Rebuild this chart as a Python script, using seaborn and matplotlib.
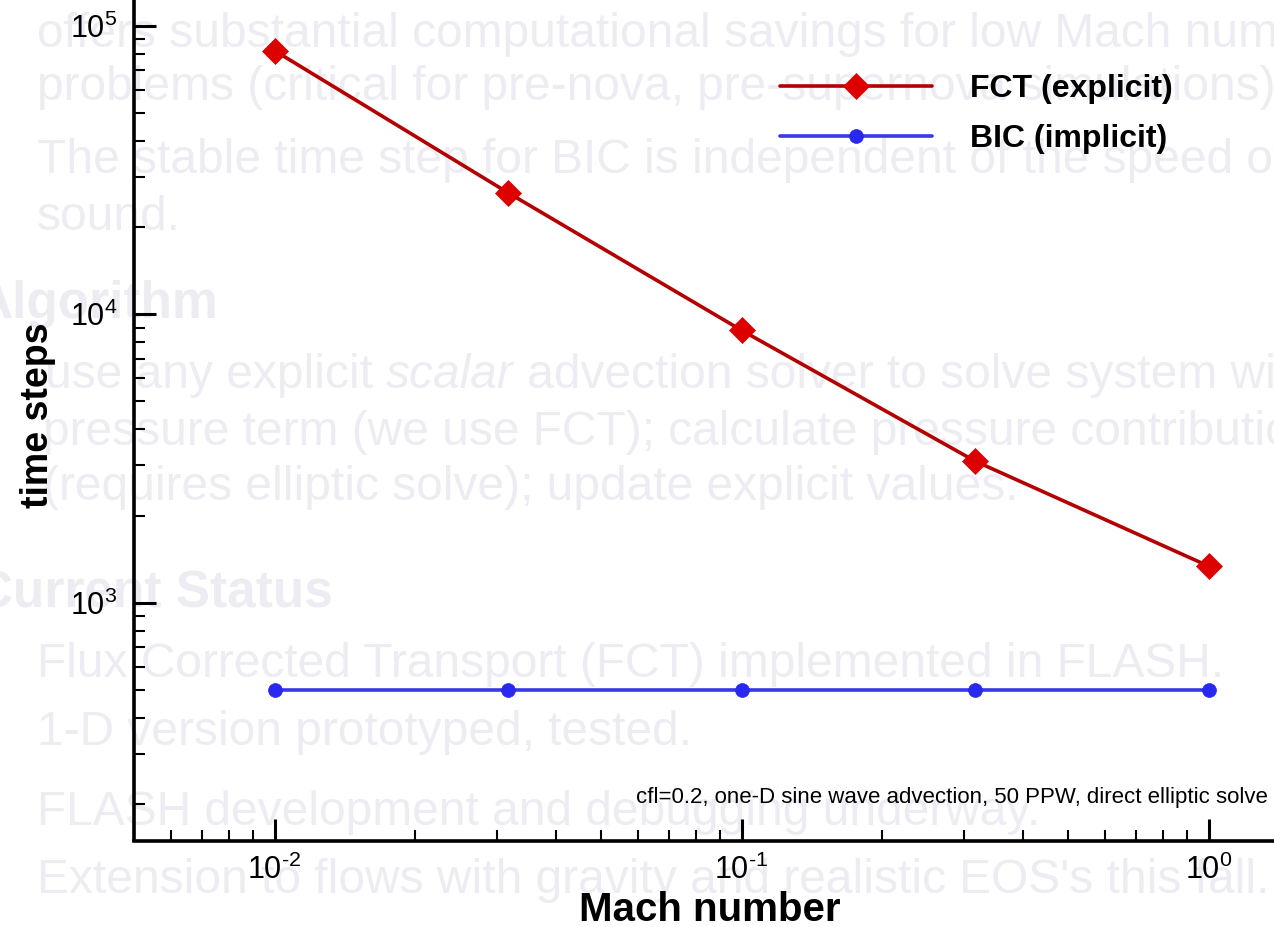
import numpy as np
import pandas as pd
import matplotlib
matplotlib.use("Agg")
import matplotlib.pyplot as plt
import matplotlib.ticker as mticker
import seaborn as sns

# Number of time steps needed to reach the same final time, per Mach number
mach = [0.01, 0.0316, 0.1, 0.316, 1.0]
fct_steps = [82000, 26400, 8800, 3100, 1340]
bic_steps = [500, 500, 500, 500, 500]
series_names = ["FCT (explicit)", "BIC (implicit)"]
note = "cfl=0.2, one-D sine wave advection, 50 PPW, direct elliptic solve"

# Slide text that sits faintly behind the plot
slide_lines = [
    ("offers substantial computational savings for low Mach number", 37, 47),
    ("problems (critical for pre-nova, pre-supernova simulations).", 37, 100),
    ("The stable time step for BIC is independent of the speed of", 37, 173),
    ("sound.", 37, 230),
    ("pressure term (we use FCT); calculate pressure contribution", 43, 445),
    ("(requires elliptic solve); update explicit values.", 43, 500),
    ("Flux Corrected Transport (FCT) implemented in FLASH.", 37, 677),
    ("1-D version prototyped, tested.", 37, 745),
    ("FLASH development and debugging underway.", 37, 825),
    ("Extension to flows with gravity and realistic EOS's this fall.", 37, 893),
]
slide_headings = [("Algorithm", 218, 318), ("Current Status", 333, 607)]

df = pd.DataFrame({
    "Mach number": mach * 2,
    "time steps": fct_steps + bic_steps,
    "scheme": [series_names[0]] * len(mach) + [series_names[1]] * len(mach),
})

sns.set_style("ticks")
plt.rcParams["font.family"] = ["Liberation Sans", "DejaVu Sans"]
plt.rcParams["mathtext.fontset"] = "custom"
plt.rcParams["mathtext.rm"] = "Liberation Sans"
plt.rcParams["mathtext.it"] = "Liberation Sans:italic"
plt.rcParams["mathtext.bf"] = "Liberation Sans:bold"
plt.rcParams["text.color"] = "black"
plt.rcParams["axes.labelcolor"] = "black"
plt.rcParams["xtick.color"] = "black"
plt.rcParams["ytick.color"] = "black"

W, H = 1274, 927
fig = plt.figure(figsize=(W / 100, H / 100), dpi=100)
fig.patch.set_facecolor("white")

faint = "#ececf2"
bg_size = 34.5
for txt, x, y in slide_lines:
    fig.text(x / W, 1 - y / H, txt, fontsize=bg_size, color=faint, ha="left",
             va="baseline", zorder=-5)
# line with an italic word
r = fig.canvas.get_renderer()
t0 = fig.text(45 / W, 1 - 388 / H, "use any explicit ", fontsize=bg_size, color=faint,
              ha="left", va="baseline", zorder=-5)
bb = t0.get_window_extent(r)
t1 = fig.text(bb.x1 / W, 1 - 388 / H, "scalar", fontsize=bg_size, color=faint,
              style="italic", ha="left", va="baseline", zorder=-5)
bb1 = t1.get_window_extent(r)
fig.text(bb1.x1 / W, 1 - 388 / H, " advection solver to solve system without",
         fontsize=bg_size, color=faint, ha="left", va="baseline", zorder=-5)
for txt, xr, y in slide_headings:
    fig.text(xr / W, 1 - y / H, txt, fontsize=37, color=faint, weight="bold",
             ha="right", va="baseline", zorder=-5)

# Axes extend past the top and right edges of the figure
x0, x1 = 0.005, 1.5
y0, y1 = 150, 1.5e5
px_dec_x, px_dec_y = 467, 288.5
ax_w = (np.log10(x1) - np.log10(x0)) * px_dec_x
ax_h = (np.log10(y1) - np.log10(y0)) * px_dec_y
left_px, bottom_px = 134, 840.5
ax = fig.add_axes([left_px / W, (H - bottom_px) / H, ax_w / W, ax_h / H])
ax.set_facecolor("none")

red_line, red_fill = "#b40000", "#dd0000"
blue_line, blue_fill = "#3838e8", "#2828f0"

sns.lineplot(data=df[df["scheme"] == series_names[0]], x="Mach number", y="time steps",
             ax=ax, color=red_line, lw=2.6, marker="D", markersize=13,
             markerfacecolor=red_fill, markeredgecolor=red_fill, markeredgewidth=0.5,
             label=series_names[0])
sns.lineplot(data=df[df["scheme"] == series_names[1]], x="Mach number", y="time steps",
             ax=ax, color=blue_line, lw=2.6, marker="o", markersize=10,
             markerfacecolor=blue_fill, markeredgecolor=blue_fill, markeredgewidth=0.5,
             label=series_names[1])

ax.set_xscale("log")
ax.set_yscale("log")
ax.set_xlim(x0, x1)
ax.set_ylim(y0, y1)


def pow10(v, pos):
    e = int(round(np.log10(v)))
    s = r"\text{-}%d" % (-e) if e < 0 else "%d" % e
    return r"$\mathregular{10^{%s}}$" % s


ax.xaxis.set_major_locator(mticker.LogLocator(base=10, numticks=10))
ax.yaxis.set_major_locator(mticker.LogLocator(base=10, numticks=10))
ax.xaxis.set_major_formatter(mticker.FuncFormatter(pow10))
ax.yaxis.set_major_formatter(mticker.FuncFormatter(pow10))
ax.xaxis.set_minor_locator(mticker.LogLocator(base=10, subs=np.arange(2, 10), numticks=20))
ax.yaxis.set_minor_locator(mticker.LogLocator(base=10, subs=np.arange(2, 10), numticks=20))
ax.xaxis.set_minor_formatter(mticker.NullFormatter())
ax.yaxis.set_minor_formatter(mticker.NullFormatter())

for s in ["left", "bottom", "top", "right"]:
    ax.spines[s].set_linewidth(2.6)
    ax.spines[s].set_color("black")
ax.tick_params(which="major", direction="in", length=16, width=2.2, labelsize=22,
               colors="black", top=False, right=False)
ax.tick_params(which="minor", direction="in", length=8, width=1.5, top=False, right=False)
ax.tick_params(axis="y", which="major", pad=12)
ax.tick_params(axis="x", which="major", pad=10)

ax.set_xlabel("Mach number", fontsize=29, weight="bold")
ax.set_ylabel("time steps", fontsize=27, weight="bold")
ax.xaxis.set_label_coords(710 / W, 1 - 891 / H, transform=fig.transFigure)
ax.yaxis.set_label_coords(56 / W, 1 - 415 / H, transform=fig.transFigure)

fig.text(1268 / W, 1 - 798 / H, note, fontsize=16, ha="right", va="center",
         color="black")

leg = ax.legend(loc="upper left", bbox_to_anchor=(780 / W, 1 - 74 / H),
                bbox_transform=fig.transFigure, frameon=False,
                prop={"weight": "bold", "size": 23}, handlelength=4.75,
                handletextpad=1.2, labelspacing=0.62, borderpad=0, borderaxespad=0)
for t in leg.get_texts():
    t.set_color("black")

fig.savefig("out.png", dpi=100)
